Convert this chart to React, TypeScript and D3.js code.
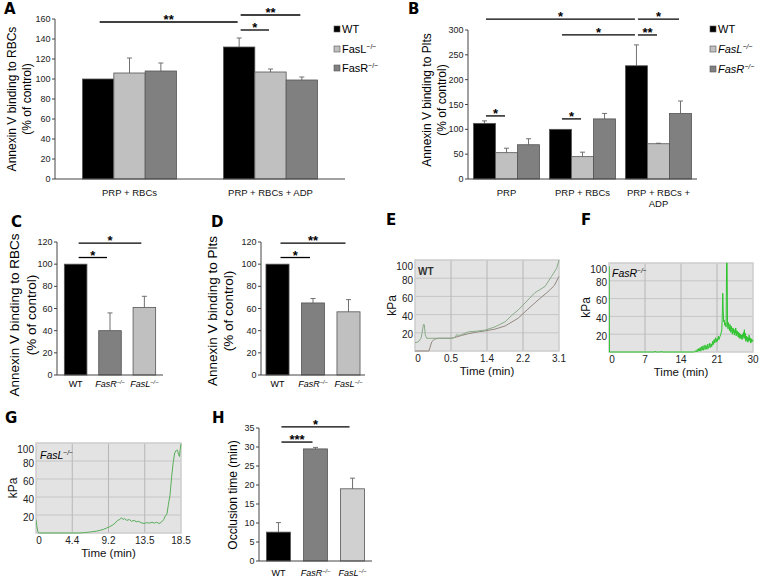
import React from "react";
import * as d3 from "d3";

const FONT = "'Liberation Sans', Arial, Helvetica, sans-serif";

const COLOR_WT = "#000000";
const COLOR_FASL = "#c0c0c0";
const COLOR_FASR = "#808080";
const COLOR_FASL_H = "#d0d0d0";

// ---------- Panel A ----------
const aCategories = [["PRP + RBCs"], ["PRP + RBCs + ADP"]];
const aWT = [100, 132];
const aWTErr = [0, 9];
const aFasL = [106, 107];
const aFasLErr = [15, 3];
const aFasR = [108, 99];
const aFasRErr = [8, 3];
const aTicks = [0, 20, 40, 60, 80, 100, 120, 140, 160];
const aSig = [
  { from: [0, 0], to: [1, 0], level: 157, label: "**" },
  { from: [1, 0], to: [1, 2], level: 164, label: "**" },
  { from: [1, 0], to: [1, 1], level: 149, label: "*" },
];
const aLegend = ["WT", "FasL", "FasR"];

// ---------- Panel B ----------
const bCategories = [["PRP"], ["PRP + RBCs"], ["PRP + RBCs +", "ADP"]];
const bWT = [112, 100, 228];
const bWTErr = [5, 0, 42];
const bFasL = [53, 45, 71];
const bFasLErr = [9, 9, 1];
const bFasR = [69, 121, 132];
const bFasRErr = [12, 11, 25];
const bTicks = [0, 50, 100, 150, 200, 250, 300];
const bSig = [
  { from: [0, 0], to: [2, 0], level: 322, label: "*" },
  { from: [2, 0], to: [2, 2], level: 322, label: "*" },
  { from: [1, 0], to: [2, 0], level: 290, label: "*" },
  { from: [2, 0], to: [2, 1], level: 290, label: "**" },
  { from: [0, 0], to: [0, 1], level: 127, label: "*" },
  { from: [1, 0], to: [1, 1], level: 121, label: "*" },
];
const bLegend = ["WT", "FasL", "FasR"];

// ---------- Panel C ----------
const cCategories = ["WT", "FasR", "FasL"];
const cValues = [100, 40, 61];
const cErr = [0, 16, 10];
const cTicks = [0, 20, 40, 60, 80, 100, 120];
const cSig = [
  { from: 0, to: 1, level: 106, label: "*" },
  { from: 0, to: 2, level: 119, label: "*" },
];

// ---------- Panel D ----------
const dCategories = ["WT", "FasR", "FasL"];
const dValues = [100, 65, 57];
const dErr = [0, 4, 11];
const dTicks = [0, 20, 40, 60, 80, 100, 120];
const dSig = [
  { from: 0, to: 1, level: 106, label: "*" },
  { from: 0, to: 2, level: 119, label: "**" },
];

// ---------- Panel H ----------
const hCategories = ["WT", "FasR", "FasL"];
const hValues = [7.6, 29.5, 19];
const hErr = [2.5, 0.4, 2.8];
const hTicks = [0, 5, 10, 15, 20, 25, 30, 35];
const hSig = [
  { from: 0, to: 1, level: 31.3, label: "***" },
  { from: 0, to: 2, level: 35.3, label: "*" },
];

// ---------- Trace panels ----------
const traceYTicks = [20, 40, 60, 80, 100];
const eTimeLabels = ["0", "0.5", "1.4", "2.2", "3.1"];
const fTimeLabels = ["0", "7", "14", "21", "30"];
const gTimeLabels = ["0", "4.4", "9.2", "13.5", "18.5"];

const eGreen: [number, number][] = [
  [0, 9], [0.07, 10], [0.13, 14], [0.16, 22], [0.18, 29], [0.2, 29], [0.22, 18], [0.25, 14],
  [0.5, 14], [0.79, 14], [0.86, 15], [0.9, 18], [0.95, 17], [1.0, 18], [1.15, 21], [1.36, 22],
  [1.51, 23], [1.72, 26.5], [1.94, 32], [2.08, 39], [2.22, 45], [2.43, 56], [2.58, 64],
  [2.8, 71], [2.94, 82], [3.05, 91], [3.1, 100],
];
const eBrown: [number, number][] = [
  [0, 0], [0.3, 0], [0.36, 10], [0.42, 13], [0.5, 14], [0.79, 14], [1.0, 17], [1.15, 19],
  [1.36, 21], [1.5, 22], [1.72, 24], [1.94, 27.5], [2.22, 36], [2.43, 46], [2.65, 56],
  [2.86, 65], [3.0, 72], [3.1, 82],
];
const fTrace: [number, number][] = [
  [0, 0], [0, 96], [0.1, 0], [9.5, 0], [9.6, 1], [9.7, 0], [10.8, 0], [10.9, 1], [11, 0],
  [17.8, 0], [18.0, 1.5], [18.2, 0], [18.4, 3], [18.5, 0.5], [18.7, 4], [18.8, 1], [19.0, 5],
  [19.1, 1], [19.3, 6], [19.4, 2], [19.6, 7], [19.7, 2], [19.9, 4], [20.0, 8], [20.1, 3],
  [20.3, 7], [20.4, 3], [20.6, 9], [20.7, 4], [20.9, 6], [21.0, 10], [21.1, 5], [21.3, 9],
  [21.4, 6], [21.6, 12], [21.7, 8], [21.9, 14], [22.0, 10], [22.2, 16], [22.3, 11], [22.5, 15],
  [22.6, 12], [22.8, 18], [22.9, 14], [23.1, 17], [23.3, 20], [23.5, 25], [23.6, 40],
  [23.7, 66], [23.8, 45], [23.9, 34], [24.0, 36], [24.1, 30], [24.2, 33], [24.4, 28],
  [24.5, 100], [24.6, 100], [24.7, 30], [24.8, 26], [24.9, 33], [25.0, 29], [25.1, 24],
  [25.2, 31], [25.3, 27], [25.4, 22], [25.5, 29], [25.6, 25], [25.7, 20], [25.8, 27],
  [25.9, 22], [26.0, 26], [26.1, 19], [26.2, 24], [26.3, 21], [26.4, 27], [26.5, 18],
  [26.6, 24], [26.7, 20], [26.8, 23], [26.9, 17], [27.0, 22], [27.1, 16], [27.2, 21],
  [27.3, 15], [27.4, 20], [27.5, 16], [27.6, 19], [27.7, 14], [27.8, 20], [27.9, 15],
  [28.0, 22], [28.1, 17], [28.2, 25], [28.3, 15], [28.4, 21], [28.5, 12], [28.6, 18],
  [28.7, 13], [28.8, 17], [28.9, 11], [29.0, 16], [29.1, 12], [29.2, 19], [29.3, 13],
  [29.4, 16], [29.5, 10], [29.6, 15], [29.7, 11], [29.8, 14], [29.9, 12], [30, 13],
];
const gTrace: [number, number][] = [
  [0, 15], [0.1, 8], [0.25, 1], [0.4, 0], [5.6, 0], [6.2, 0.5], [6.8, 1], [7.2, 1.5],
  [7.7, 2], [8.2, 3], [8.6, 4], [9.0, 5.5], [9.4, 7], [9.8, 9], [10.1, 11], [10.4, 14],
  [10.7, 15], [10.9, 17], [11.1, 15], [11.3, 16], [11.6, 14], [11.9, 15], [12.2, 13],
  [12.5, 14], [12.8, 12.5], [13.1, 13], [13.4, 11.5], [13.8, 10.5], [14.1, 11.5], [14.5, 11],
  [14.8, 12], [15.1, 11], [15.4, 12], [15.7, 10.5], [16.0, 12], [16.3, 15], [16.5, 19],
  [16.7, 21], [16.9, 32], [17.1, 42], [17.3, 62], [17.5, 78], [17.7, 89], [17.9, 92],
  [18.05, 92], [18.2, 87], [18.3, 85], [18.4, 93], [18.5, 99],
];

// ---------- helpers ----------
function Geno({ name, italic, x, y, size, anchor = "middle" }: any) {
  return (
    <text x={x} y={y} fontSize={size} textAnchor={anchor} fontStyle={italic && name !== "WT" ? "italic" : "normal"}>
      {name}
      {name !== "WT" && (
        <tspan dy={-size * 0.38} fontSize={size * 0.62}>
          −/−
        </tspan>
      )}
    </text>
  );
}

function PanelLetter({ x, y, t }: any) {
  return (
    <text x={x} y={y} fontSize={15} fontWeight="bold" fontFamily="'DejaVu Sans', Arial, sans-serif">
      {t}
    </text>
  );
}

function YTitle({ x, y, lines, size, gap }: any) {
  return (
    <g transform={`translate(${x},${y}) rotate(-90)`}>
      {lines.map((l: string, i: number) => (
        <text key={i} x={0} y={i * gap} textAnchor="middle" dy="0.35em" fontSize={size}>
          {l}
        </text>
      ))}
    </g>
  );
}

function YAxis({ x0, y, ticks, x1, fontSize = 9 }: any) {
  const [d0, d1] = y.domain();
  return (
    <g>
      <line x1={x0} x2={x0} y1={y(d0)} y2={y(d1)} stroke="#444" strokeWidth={1} />
      <line x1={x0} x2={x1} y1={y(d0)} y2={y(d0)} stroke="#444" strokeWidth={1} />
      {ticks.map((t: number) => (
        <g key={t}>
          <line x1={x0 - 3} x2={x0} y1={y(t)} y2={y(t)} stroke="#444" />
          <text x={x0 - 4.5} y={y(t)} dy="0.35em" textAnchor="end" fontSize={fontSize} fill="#222">
            {t}
          </text>
        </g>
      ))}
    </g>
  );
}

function SigLine({ xa, xb, yy, label, size = 13 }: any) {
  return (
    <g>
      <line x1={xa} x2={xb} y1={yy} y2={yy} stroke="#000" strokeWidth={1.3} />
      <text x={(xa + xb) / 2} y={yy + 2} textAnchor="middle" fontSize={size} fontWeight="bold">
        {label}
      </text>
    </g>
  );
}

function ErrBar({ cx, y, v, e }: any) {
  if (!e) return null;
  return (
    <g stroke="#707070" strokeWidth={1}>
      <line x1={cx} x2={cx} y1={y(v)} y2={y(v + e)} />
      <line x1={cx - 2.5} x2={cx + 2.5} y1={y(v + e)} y2={y(v + e)} />
    </g>
  );
}

function GroupedBars({ x0, x1, yBottom, yTop, yMax, ticks, categories, series, pInner, pOuter, sig, catY, catSize }: any) {
  const x = d3.scaleBand<number>().domain(d3.range(categories.length)).range([x0, x1]).paddingInner(pInner).paddingOuter(pOuter);
  const inner = d3.scaleBand<number>().domain(d3.range(series.length)).range([0, x.bandwidth()]);
  const y = d3.scaleLinear().domain([0, yMax]).range([yBottom, yTop]);
  const center = (c: number, s: number) => (x(c) as number) + (inner(s) as number) + inner.bandwidth() / 2;
  return (
    <g>
      {series.map((s: any, si: number) =>
        categories.map((_: any, ci: number) => {
          const bx = (x(ci) as number) + (inner(si) as number);
          const v = s.values[ci];
          return (
            <g key={`${si}-${ci}`}>
              <ErrBar cx={center(ci, si)} y={y} v={v} e={s.errors[ci]} />
              <rect x={bx} y={y(v)} width={inner.bandwidth()} height={y(0) - y(v)} fill={s.color} stroke="#555" strokeWidth={0.8} />
            </g>
          );
        })
      )}
      <YAxis x0={x0} x1={x1} y={y} ticks={ticks} />
      {categories.map((lines: string[], ci: number) =>
        lines.map((l, li) => (
          <text key={`${ci}-${li}`} x={(x(ci) as number) + x.bandwidth() / 2} y={catY + li * 11} textAnchor="middle" fontSize={catSize} fill="#111">
            {l}
          </text>
        ))
      )}
      {sig.map((s: any, i: number) => (
        <SigLine key={i} xa={center(s.from[0], s.from[1]) + 1.5} xb={center(s.to[0], s.to[1]) - 1.5} yy={y(s.level)} label={s.label} />
      ))}
    </g>
  );
}

function SimpleBars({ x0, x1, yBottom, yTop, yMax, ticks, categories, values, errors, colors, pInner, pOuter, sig, catY }: any) {
  const x = d3.scaleBand<number>().domain(d3.range(categories.length)).range([x0, x1]).paddingInner(pInner).paddingOuter(pOuter);
  const y = d3.scaleLinear().domain([0, yMax]).range([yBottom, yTop]);
  const center = (c: number) => (x(c) as number) + x.bandwidth() / 2;
  return (
    <g>
      {values.map((v: number, i: number) => (
        <g key={i}>
          <ErrBar cx={center(i)} y={y} v={v} e={errors[i]} />
          <rect x={x(i)} y={y(v)} width={x.bandwidth()} height={y(0) - y(v)} fill={colors[i]} stroke="#555" strokeWidth={0.8} />
        </g>
      ))}
      <YAxis x0={x0} x1={x1} y={y} ticks={ticks} />
      {categories.map((c: string, i: number) => (
        <Geno key={c} name={c} italic x={center(i)} y={catY} size={9} />
      ))}
      {sig.map((s: any, i: number) => (
        <SigLine key={i} xa={center(s.from) + 3} xb={center(s.to) - 3} yy={y(s.level)} label={s.label} />
      ))}
    </g>
  );
}

function Legend({ x, ys, items, colors, italic }: any) {
  return (
    <g>
      {items.map((it: string, i: number) => (
        <g key={it}>
          <rect x={x} y={ys[i] - 3} width={6} height={6} fill={colors[i]} stroke="#555" strokeWidth={0.6} />
          <Geno name={it} italic={italic} x={x + 8} y={ys[i] + 4} size={11} anchor="start" />
        </g>
      ))}
    </g>
  );
}

function TracePanel({ id, x0, x1, y0, y1, tMax, timeLabels, lines, children }: any) {
  const x = d3.scaleLinear().domain([0, tMax]).range([x0, x1]);
  const y = d3.scaleLinear().domain([0, 100]).range([y1, y0]);
  const grid = d3.scalePoint<string>().domain(timeLabels).range([x0, x1]);
  const line = d3
    .line<[number, number]>()
    .x((d) => x(d[0]))
    .y((d) => y(d[1]));
  return (
    <g>
      <rect x={x0} y={y0} width={x1 - x0} height={y1 - y0} fill="#e3e3e3" />
      {[20, 40, 60, 80].map((v) => (
        <line key={v} x1={x0} x2={x1} y1={y(v)} y2={y(v)} stroke="#c6c6c6" strokeWidth={1} />
      ))}
      {timeLabels.slice(1, -1).map((t: string) => (
        <line key={t} x1={grid(t)} x2={grid(t)} y1={y0} y2={y1} stroke="#b6b6b6" strokeWidth={1} />
      ))}
      <rect x={x0} y={y0} width={x1 - x0} height={y1 - y0} fill="none" stroke="#cdcdcd" strokeWidth={1.5} />
      <clipPath id={id}>
        <rect x={x0} y={y0 - 1} width={x1 - x0 + 1} height={y1 - y0 + 2} />
      </clipPath>
      <g clipPath={`url(#${id})`}>
        {lines.map((l: any, i: number) => (
          <path key={i} d={line(l.data) as string} fill="none" stroke={l.color} strokeWidth={l.width || 1} />
        ))}
      </g>
      {traceYTicks.map((v) => (
        <text key={v} x={x0 - 2} y={v === 100 ? y0 + 6 : y(v) + 2} dy="0.35em" textAnchor="end" fontSize={10} fill="#222">
          {v}
        </text>
      ))}
      {timeLabels.map((t: string, i: number) => (
        <text key={t} x={(grid(t) as number) + (i === 0 ? 3 : 0)} y={y1 + 7} dy="0.35em" textAnchor="middle" fontSize={10} fill="#222">
          {t}
        </text>
      ))}
      <text x={(x0 + x1) / 2} y={y1 + 20} dy="0.35em" textAnchor="middle" fontSize={11.5} fill="#111">
        Time (min)
      </text>
      <text transform={`translate(${x0 - 23},${(y0 + y1) / 2}) rotate(-90)`} textAnchor="middle" dy="0.35em" fontSize={12} fill="#111">
        kPa
      </text>
      {children}
    </g>
  );
}

export default function App() {
  return (
    <svg width={766} height={585} style={{ position: "absolute", left: 0, top: 0, background: "#fff" }} fontFamily={FONT}>
      <rect x={0} y={0} width={766} height={585} fill="#fff" />

      {/* Panel A */}
      <PanelLetter x={4} y={14} t="A" />
      <YTitle x={12} y={99} lines={["Annexin V binding to RBCs", "(% of control)"]} size={12} gap={15} />
      <GroupedBars
        x0={55}
        x1={345}
        yBottom={179}
        yTop={19}
        yMax={160}
        ticks={aTicks}
        categories={aCategories}
        series={[
          { values: aWT, errors: aWTErr, color: COLOR_WT },
          { values: aFasL, errors: aFasLErr, color: COLOR_FASL },
          { values: aFasR, errors: aFasRErr, color: COLOR_FASR },
        ]}
        pInner={0.333}
        pOuter={0.195}
        sig={aSig}
        catY={195.5}
        catSize={9.5}
      />
      <Legend x={334} ys={[29, 49, 68]} items={aLegend} colors={[COLOR_WT, COLOR_FASL, COLOR_FASR]} italic={false} />

      {/* Panel B */}
      <PanelLetter x={408} y={14} t="B" />
      <YTitle x={427} y={100} lines={["Annexin V binding to Plts", "(% of control)"]} size={12} gap={15} />
      <GroupedBars
        x0={468}
        x1={697}
        yBottom={179}
        yTop={30}
        yMax={300}
        ticks={bTicks}
        categories={bCategories}
        series={[
          { values: bWT, errors: bWTErr, color: COLOR_WT },
          { values: bFasL, errors: bFasLErr, color: COLOR_FASL },
          { values: bFasR, errors: bFasRErr, color: COLOR_FASR },
        ]}
        pInner={0.13}
        pOuter={0.072}
        sig={bSig}
        catY={195.5}
        catSize={9.5}
      />
      <Legend x={710} ys={[29, 49, 69]} items={bLegend} colors={[COLOR_WT, COLOR_FASL, COLOR_FASR]} italic={true} />

      {/* Panel C */}
      <PanelLetter x={11} y={227} t="C" />
      <YTitle x={14} y={315} lines={["Annexin V binding to RBCs", "(% of control)"]} size={13.5} gap={17} />
      <SimpleBars
        x0={57}
        x1={163}
        yBottom={375}
        yTop={242}
        yMax={120}
        ticks={cTicks}
        categories={cCategories}
        values={cValues}
        errors={cErr}
        colors={[COLOR_WT, COLOR_FASR, COLOR_FASL]}
        pInner={0.343}
        pOuter={0.214}
        sig={cSig}
        catY={387}
      />

      {/* Panel D */}
      <PanelLetter x={211} y={227} t="D" />
      <YTitle x={212} y={311} lines={["Annexin V binding to Plts", "(% of control)"]} size={13.5} gap={16} />
      <SimpleBars
        x0={261}
        x1={365}
        yBottom={375}
        yTop={242}
        yMax={120}
        ticks={dTicks}
        categories={dCategories}
        values={dValues}
        errors={dErr}
        colors={[COLOR_WT, COLOR_FASR, COLOR_FASL]}
        pInner={0.35}
        pOuter={0.14}
        sig={dSig}
        catY={387}
      />

      {/* Panel E */}
      <PanelLetter x={386} y={225} t="E" />
      <TracePanel
        id="clipE"
        x0={415}
        x1={559}
        y0={260}
        y1={351}
        tMax={3.1}
        timeLabels={eTimeLabels}
        lines={[
          { data: eBrown, color: "#938880" },
          { data: eGreen, color: "#88ab88" },
        ]}
      >
        <text x={418} y={275} fontSize={10} fontWeight="bold" fill="#333">
          WT
        </text>
      </TracePanel>

      {/* Panel F */}
      <PanelLetter x={581} y={225} t="F" />
      <TracePanel
        id="clipF"
        x0={609}
        x1={753}
        y0={263}
        y1={352}
        tMax={30}
        timeLabels={fTimeLabels}
        lines={[{ data: fTrace, color: "#2fc42f" }]}
      >
        <Geno name="FasR" italic x={612} y={277} size={10.5} anchor="start" />
      </TracePanel>

      {/* Panel G */}
      <PanelLetter x={5} y={423} t="G" />
      <TracePanel
        id="clipG"
        x0={36}
        x1={181}
        y0={443}
        y1={533}
        tMax={18.5}
        timeLabels={gTimeLabels}
        lines={[{ data: gTrace, color: "#5aad5a" }]}
      >
        <Geno name="FasL" italic x={40} y={459} size={10.5} anchor="start" />
      </TracePanel>

      {/* Panel H */}
      <PanelLetter x={212} y={423} t="H" />
      <YTitle x={233} y={495} lines={["Occlusion time (min)"]} size={12} gap={0} />
      <SimpleBars
        x0={259}
        x1={372}
        yBottom={561}
        yTop={428}
        yMax={35}
        ticks={hTicks}
        categories={hCategories}
        values={hValues}
        errors={hErr}
        colors={[COLOR_WT, COLOR_FASR, COLOR_FASL_H]}
        pInner={0.35}
        pOuter={0.2}
        sig={hSig}
        catY={576}
      />
    </svg>
  );
}
